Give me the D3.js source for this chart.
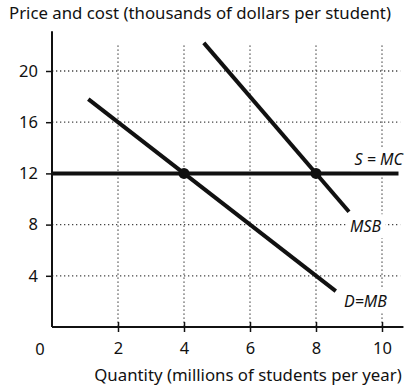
<!DOCTYPE html>
<html><head><meta charset="utf-8">
<script src="https://cdn.jsdelivr.net/npm/d3@7"></script>
<style>body{margin:0;background:#fff}svg{display:block}text{font-family:"Noto Sans",Lato,sans-serif;fill:#111}</style>
</head><body>
<script>
const xTicks = [2, 4, 6, 8, 10];
const yTicks = [4, 8, 12, 16, 20];
const demandMB = [{q: 1.1, p: 17.8}, {q: 8.6, p: 2.8}];
const msb = [{q: 4.6, p: 22.2}, {q: 9.0, p: 9.0}];
const supplyMC = [{q: 0, p: 12}, {q: 10.5, p: 12}];
const equilibria = [{q: 4, p: 12}, {q: 8, p: 12}];
const labels = [
  {text: "S = MC", q: 9.9, p: 12.65},
  {text: "MSB", q: 9.5, p: 7.4},
  {text: "D=MB", q: 9.5, p: 1.55}
];

const W = 420, H = 388;
const svg = d3.select("body").append("svg").attr("width", W).attr("height", H);
const x = d3.scaleLinear().domain([0, 10]).range([52, 382]);
const y = d3.scaleLinear().domain([0, 20]).range([327, 71]);

// gridlines
const grid = svg.append("g").attr("stroke", "#444").attr("stroke-width", 1.3).attr("stroke-dasharray", "1.3,2.7");
xTicks.forEach(t => grid.append("line").attr("x1", x(t)).attr("x2", x(t)).attr("y1", y(22)).attr("y2", y(0)));
yTicks.filter(t => t !== 12).forEach(t => grid.append("line").attr("x1", x(0)).attr("x2", x(10.55)).attr("y1", y(t)).attr("y2", y(t)));

// axes
const xAxis = svg.append("g").attr("transform", `translate(0,${y(0)})`)
  .call(d3.axisBottom(x).tickValues(xTicks).tickSize(5).tickPadding(10).tickFormat(d3.format("d")));
xAxis.select(".domain").remove();
xAxis.append("line").attr("x1", x(0)).attr("x2", x(10.65)).attr("stroke", "#111").attr("stroke-width", 2);
xAxis.selectAll(".tick line").attr("y1", -5).attr("stroke", "#111").attr("stroke-width", 1.5);
xAxis.selectAll(".tick text").attr("font-size", 16.5).attr("fill", "#111");

const yAxis = svg.append("g").attr("transform", `translate(${x(0)},0)`)
  .call(d3.axisLeft(y).tickValues(yTicks).tickSize(6).tickPadding(8).tickFormat(d3.format("d")));
yAxis.select(".domain").remove();
yAxis.append("line").attr("y1", y(0)).attr("y2", y(23.1)).attr("stroke", "#111").attr("stroke-width", 2);
yAxis.selectAll(".tick line").attr("stroke", "#111").attr("stroke-width", 1.5);
yAxis.selectAll(".tick text").attr("font-size", 16.5).attr("fill", "#111");

svg.append("text").attr("x", x(0) - 12).attr("y", y(0) + 28).attr("text-anchor", "middle").attr("font-size", 16.5).text("0");

// curves
const line = d3.line().x(d => x(d.q)).y(d => y(d.p));
[supplyMC, demandMB, msb].forEach(data =>
  svg.append("path").datum(data).attr("d", line).attr("fill", "none").attr("stroke", "#111").attr("stroke-width", 4));

svg.selectAll("circle.eq").data(equilibria).join("circle").attr("class", "eq")
  .attr("cx", d => x(d.q)).attr("cy", d => y(d.p)).attr("r", 5.5).attr("fill", "#111");

// labels with white background
labels.forEach(l => {
  const g = svg.append("g");
  const t = g.append("text").attr("x", x(l.q)).attr("y", y(l.p)).attr("text-anchor", "middle")
    .attr("font-size", 16).attr("font-style", "italic").text(l.text);
  const b = t.node().getBBox();
  g.insert("rect", "text").attr("x", b.x - 4).attr("y", b.y - 1).attr("width", b.width + 8).attr("height", b.height + 2).attr("fill", "#fff");
});

// titles
svg.append("text").attr("x", 9).attr("y", 19).attr("font-size", 16.8).text("Price and cost (thousands of dollars per student)");
svg.append("text").attr("x", 248).attr("y", 381).attr("text-anchor", "middle").attr("font-size", 16.8).text("Quantity (millions of students per year)");
</script>
</body></html>
